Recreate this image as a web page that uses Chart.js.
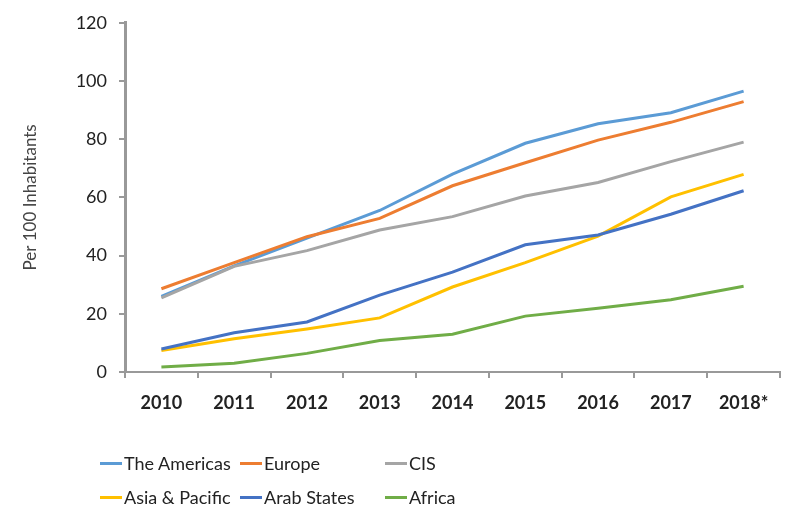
<!DOCTYPE html>
<html>
<head>
<meta charset="utf-8">
<script src="https://cdn.jsdelivr.net/npm/chart.js@4.4.0/dist/chart.umd.min.js"></script>
<style>
  body { margin: 0; background: #fff; }
  #wrap { position: relative; width: 790px; height: 513px; }
  #legend { position: absolute; left: 100px; top: 448px; width: 600px;
    display: grid; grid-template-columns: 140px 145px 200px; row-gap: 4px;
    font-family: Lato, "Liberation Sans", sans-serif; font-size: 18px; color: #222; }
  #legend span.item { display: flex; align-items: center; height: 30px; }
  #legend i { display: inline-block; width: 22px; height: 3px; margin-right: 2px; }
</style>
</head>
<body>
<div id="wrap">
  <canvas id="chart" width="790" height="513"></canvas>
  <div id="legend"></div>
</div>
<script>
const years = ['2010', '2011', '2012', '2013', '2014', '2015', '2016', '2017', '2018*'];
const americas = [26, 36.5, 46, 55.5, 68, 78.6, 85.3, 89.1, 96.5];
const europe   = [28.6, 37.6, 46.5, 52.8, 64, 71.9, 79.7, 85.8, 92.9];
const cis      = [25.5, 36.3, 41.7, 48.8, 53.4, 60.5, 65.1, 72.3, 79];
const asia     = [7.4, 11.4, 14.8, 18.6, 29.2, 37.6, 46.7, 60.2, 67.9];
const arab     = [7.9, 13.5, 17.2, 26.4, 34.3, 43.7, 47.1, 54.2, 62.3];
const africa   = [1.7, 3, 6.4, 10.8, 13, 19.2, 21.9, 24.8, 29.5];
const yTicks = [0, 20, 40, 60, 80, 100, 120];

const series = [
  { label: 'The Americas', data: americas, color: '#5B9BD5' },
  { label: 'Europe', data: europe, color: '#ED7D31' },
  { label: 'CIS', data: cis, color: '#A5A5A5' },
  { label: 'Asia & Pacific', data: asia, color: '#FFC000' },
  { label: 'Arab States', data: arab, color: '#4472C4' },
  { label: 'Africa', data: africa, color: '#70AD47' }
];

const font = "Lato, 'Liberation Sans', sans-serif";

// draw order: later datasets on top like the original
const datasets = series.map((s, i) => ({
  label: s.label,
  data: s.data,
  borderColor: s.color,
  backgroundColor: s.color,
  borderWidth: 3,
  pointRadius: 0,
  tension: 0,
  order: series.length - i
}));

var ctx = document.getElementById('chart');
const chart = new Chart(ctx, {
  type: 'line',
  data: { labels: years, datasets: datasets },
  options: {
    responsive: false,
    animation: false,
    layout: { padding: { top: 15, right: 10, bottom: 91, left: 0 } },
    plugins: { legend: { display: false }, tooltip: { enabled: false } },
    scales: {
      x: {
        offset: true,
        grid: { offset: true, drawOnChartArea: false, drawTicks: true, tickLength: 6, color: '#999', lineWidth: 2 },
        border: { color: '#999', width: 2 },
        ticks: { font: { family: font, size: 18, weight: 'bold' }, color: '#222', padding: 14, maxRotation: 0 },
        afterFit: s => { s.height = 50; }
      },
      y: {
        min: 0,
        max: 120,
        afterBuildTicks: s => { s.ticks = yTicks.map(v => ({ value: v })); },
        grid: { drawOnChartArea: false, drawTicks: true, tickLength: 6, color: '#999', lineWidth: 2 },
        border: { color: '#999', width: 3 },
        ticks: { font: { family: font, size: 18 }, color: '#222', padding: 12 },
        title: { display: true, text: 'Per 100 Inhabitants', font: { family: font, size: 17 }, color: '#444', padding: { top: 20, bottom: 0 } },
        afterFit: s => { s.width = 125; }
      }
    }
  }
});

const legend = document.getElementById('legend');
series.forEach(s => {
  const el = document.createElement('span');
  el.className = 'item';
  el.innerHTML = '<i style="background:' + s.color + '"></i>' + s.label;
  legend.appendChild(el);
});
</script>
</body>
</html>
